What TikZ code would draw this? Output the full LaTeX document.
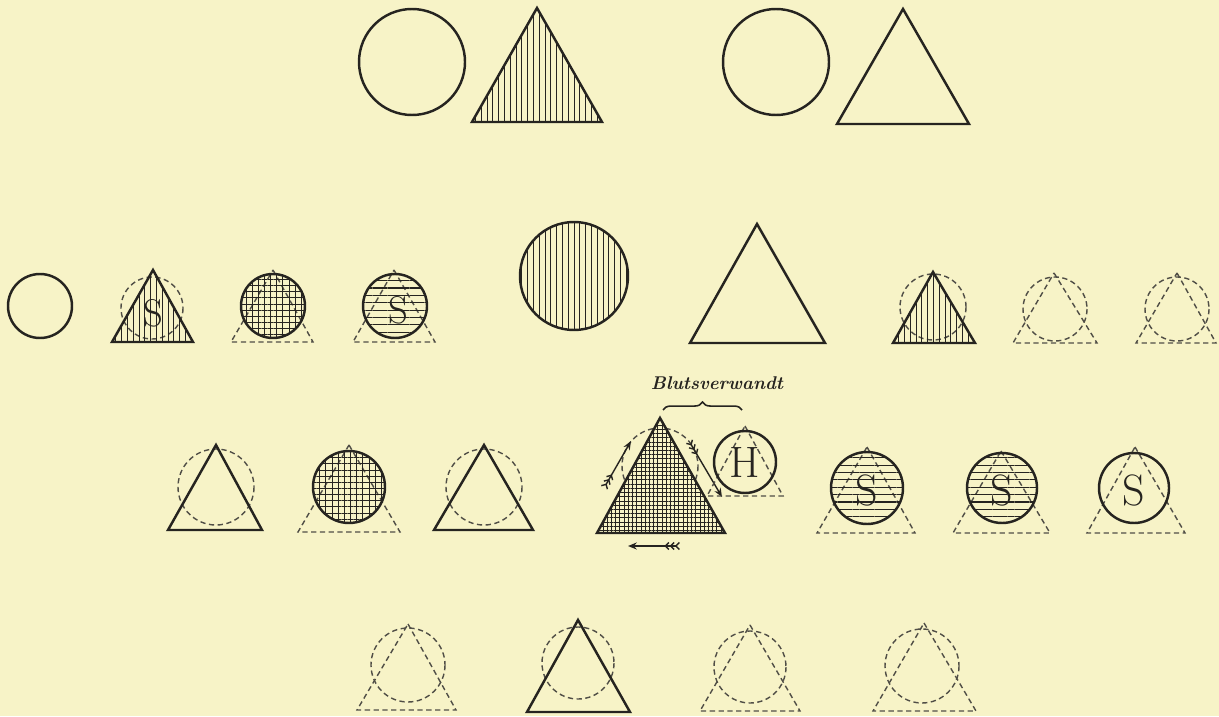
\documentclass[tikz,border=0pt]{standalone}
\usepackage{fontspec}
\usepackage{tikz}
\usetikzlibrary{patterns.meta,arrows.meta,decorations.pathreplacing}
\definecolor{papier}{RGB}{247,243,199}
\definecolor{tinte}{RGB}{38,36,32}
\definecolor{strich}{RGB}{80,78,70}

\begin{document}
\begin{tikzpicture}[x=0.02cm,y=-0.02cm,
  voll/.style={draw=tinte,line width=1.4pt},
  gestr/.style={draw=strich,line width=0.8pt,dash pattern=on 3pt off 2pt},
  senk/.style={pattern={Lines[angle=90,distance=3.3pt,line width=0.55pt]},pattern color=tinte},
  quer/.style={pattern={Lines[angle=0,distance=4.2pt,line width=0.6pt]},pattern color=tinte},
  gitter/.style={pattern={Hatch[angle=0,distance=3.5pt,line width=0.5pt]},pattern color=tinte},
  feingitter/.style={pattern={Hatch[angle=0,distance=2.4pt,line width=0.45pt]},pattern color=tinte},
  buchst/.style={font=\fontsize{22}{22}\selectfont,text=tinte,inner sep=0pt},
  grossbuchst/.style={buchst,font=\fontsize{25}{25}\selectfont},
  pfeil/.style={draw=tinte,line width=0.8pt,
    {Straight Barb[reversed,length=2pt,width=4pt]Straight Barb[reversed,length=2pt,width=4pt]Straight Barb[reversed,length=2pt,width=4pt]}-{Stealth[length=5pt,width=4pt]}}]
\fill[papier] (0,0) rectangle (1219,716);
% Reihe 1
\draw[voll] (412,62) circle[radius=53];
\draw[voll,senk] (537,8) -- (602,122) -- (472,122) -- cycle;
\draw[voll] (776,62) circle[radius=53];
\draw[voll] (903,9) -- (969,124) -- (837,124) -- cycle;
% Reihe 2
\draw[voll] (40,306) circle[radius=32];
\draw[gestr] (152,308) circle[radius=31];
\draw[voll,senk] (153,270) -- (193,342) -- (112,342) -- cycle;
\node[buchst] (s1) at (153,313) {S};
\draw[gestr] (273,270) -- (313,342) -- (231,342) -- cycle;
\draw[voll,gitter] (273,306) circle[radius=32];
\draw[gestr] (394,270) -- (435,342) -- (353,342) -- cycle;
\draw[voll,quer] (395,306) circle[radius=32];
\node[buchst] (s2) at (398,310) {S};
\draw[voll,senk] (574,276) circle[radius=54];
\draw[voll] (757,224) -- (825,343) -- (690,343) -- cycle;
\draw[gestr] (933,307) circle[radius=33];
\draw[voll,senk] (933,272) -- (975,343) -- (893,343) -- cycle;
\draw[gestr] (1054,273) -- (1097,343) -- (1013,343) -- cycle;
\draw[gestr] (1055,309) circle[radius=32];
\draw[gestr] (1177,273) -- (1216,343) -- (1136,343) -- cycle;
\draw[gestr] (1177,309) circle[radius=32];
% Reihe 3
\draw[gestr] (216,487) circle[radius=38];
\draw[voll] (216,445) -- (262,530) -- (168,530) -- cycle;
\draw[gestr] (349,445) -- (400,532) -- (298,532) -- cycle;
\draw[voll,gitter] (349,487) circle[radius=36];
\draw[gestr] (484,487) circle[radius=38];
\draw[voll] (484,445) -- (533,530) -- (434,530) -- cycle;
% Proband mit Pfeilen
\draw[gestr] (660,466) circle[radius=38];
\draw[voll,feingitter,preaction={fill=papier}] (660,418) -- (725,533) -- (597,533) -- cycle;
\coordinate (l1) at (604,488); \coordinate (l2) at (631,441);
\coordinate (r1) at (689,441); \coordinate (r2) at (722,497);
\coordinate (u1) at (680,546); \coordinate (u2) at (628,546);
\draw[pfeil] (l1) -- (l2);
\draw[pfeil] (r1) -- (r2);
\draw[pfeil] (u1) -- (u2);
\draw[gestr] (745,426) -- (783,496) -- (707,496) -- cycle;
\draw[voll] (745,462) circle[radius=31];
\node[grossbuchst] (h) at (745,462) {H};
\draw[tinte,line width=0.9pt,decorate,decoration={brace,amplitude=4.5pt}] (663,410) -- (742,410);
\node[font=\fontsize{10.5}{10.5}\selectfont\bfseries\itshape,text=tinte] (blut) at (717,383) {Blutsverwandt};
\draw[gestr] (867,447) -- (915,533) -- (817,533) -- cycle;
\draw[voll,quer] (867,488) circle[radius=36];
\node[grossbuchst] (s3) at (867,490) {S};
\draw[gestr] (1001,451) -- (1050,533) -- (953,533) -- cycle;
\draw[voll,quer] (1002,488) circle[radius=35];
\node[grossbuchst] (s4) at (1002,490) {S};
\draw[gestr] (1135,447) -- (1185,533) -- (1087,533) -- cycle;
\draw[voll] (1134,488) circle[radius=35];
\node[grossbuchst] (s5) at (1134,490) {S};
% Reihe 4
\draw[gestr] (408,624) -- (456,710) -- (357,710) -- cycle;
\draw[gestr] (408,665) circle[radius=37];
\draw[gestr] (578,663) circle[radius=36];
\draw[voll] (578,620) -- (630,712) -- (527,712) -- cycle;
\draw[gestr] (750,625) -- (800,711) -- (700,711) -- cycle;
\draw[gestr] (750,667) circle[radius=36];
\draw[gestr] (924,623) -- (976,711) -- (873,711) -- cycle;
\draw[gestr] (922,666) circle[radius=37];
\end{tikzpicture}
\end{document}
